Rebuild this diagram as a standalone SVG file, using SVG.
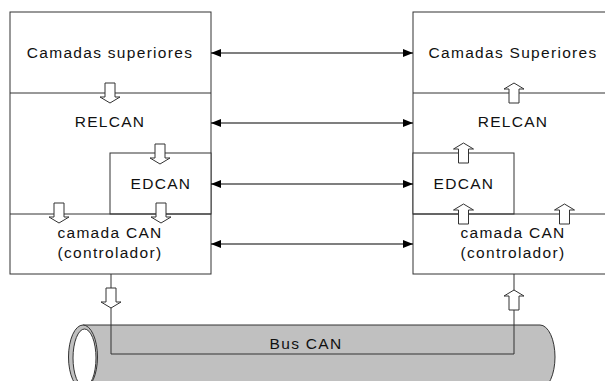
<svg xmlns="http://www.w3.org/2000/svg" width="605" height="381" viewBox="0 0 605 381">
<style>
.box{fill:#fff;stroke:#333;stroke-width:1}
.ln{stroke:#333;stroke-width:1;fill:none}
.t{font-family:"Liberation Sans",Arial,sans-serif;font-size:15.5px;letter-spacing:1.3px;fill:#111;text-anchor:middle}
.ha{fill:#fff;stroke:#333;stroke-width:1}
.bi{stroke:#000;stroke-width:1.2;fill:none;marker-start:url(#ah);marker-end:url(#ah)}
</style>
<defs>
<marker id="ah" viewBox="0 0 10 8" refX="10" refY="4" markerWidth="10" markerHeight="8" markerUnits="userSpaceOnUse" orient="auto-start-reverse">
<path d="M0,0 L10,4 L0,8 Z" fill="#000"/>
</marker>
</defs>
<rect width="605" height="381" fill="#fff"/>

<g id="bus">
<path d="M83,325 L540,325 A15,32 0 0 1 540,389 L83,389 Z" fill="#c0c0c0" stroke="#333" stroke-width="1"/>
<ellipse cx="83" cy="357" rx="14.5" ry="32" fill="#c0c0c0" stroke="#333" stroke-width="1"/>
<ellipse cx="84.5" cy="358" rx="11.5" ry="29" fill="#fff" stroke="#333" stroke-width="1"/>
<text class="t" x="306" y="349">Bus CAN</text>
</g>

<g id="left-stack">
<rect class="box" x="10" y="12" width="201" height="262"/>
<g id="left-upper"><text class="t" x="110" y="58">Camadas superiores</text></g>
<line class="ln" x1="10" y1="93" x2="211" y2="93"/>
<g id="left-relcan"><text class="t" x="110" y="127">RELCAN</text></g>
<g id="left-edcan"><rect class="box" x="110" y="153" width="101" height="61"/><text class="t" x="161" y="189">EDCAN</text></g>
<line class="ln" x1="10" y1="214" x2="211" y2="214"/>
<g id="left-can"><text class="t" x="110" y="238">camada CAN</text><text class="t" x="110" y="258">(controlador)</text></g>
</g>

<g id="right-stack">
<rect class="box" x="413" y="12" width="200" height="262"/>
<g id="right-upper"><text class="t" x="513" y="58">Camadas Superiores</text></g>
<line class="ln" x1="413" y1="93" x2="613" y2="93"/>
<g id="right-relcan"><text class="t" x="513" y="127">RELCAN</text></g>
<g id="right-edcan"><rect class="box" x="413" y="153" width="101" height="61"/><text class="t" x="464" y="189">EDCAN</text></g>
<line class="ln" x1="413" y1="214" x2="613" y2="214"/>
<g id="right-can"><text class="t" x="513" y="238">camada CAN</text><text class="t" x="513" y="258">(controlador)</text></g>
</g>

<g id="connectors">
<line class="bi" x1="211" y1="53" x2="413" y2="53"/>
<line class="bi" x1="211" y1="123" x2="413" y2="123"/>
<line class="bi" x1="211" y1="184" x2="413" y2="184"/>
<line class="bi" x1="211" y1="244" x2="413" y2="244"/>
<path class="ln" d="M111,274 L111,354 L514,354 L514,274"/>
<!-- down hollow arrows (left) -->
<path class="ha" d="M105,83 h10 v14 h5 l-10,6 l-10,-6 h5 Z"/>
<path class="ha" d="M155,144 h10 v14 h5 l-10,6 l-10,-6 h5 Z"/>
<path class="ha" d="M54,203 h10 v14 h5 l-10,6 l-10,-6 h5 Z"/>
<path class="ha" d="M156,203 h10 v14 h5 l-10,6 l-10,-6 h5 Z"/>
<path class="ha" d="M106,288 h10 v14 h5 l-10,6 l-10,-6 h5 Z"/>
<!-- up hollow arrows (right) -->
<path class="ha" d="M509,103 h10 v-14 h5 l-10,-6 l-10,6 h5 Z"/>
<path class="ha" d="M458.5,163 h10 v-14 h5 l-10,-6 l-10,6 h5 Z"/>
<path class="ha" d="M458.5,224 h10 v-14 h5 l-10,-6 l-10,6 h5 Z"/>
<path class="ha" d="M559.5,224 h10 v-14 h5 l-10,-6 l-10,6 h5 Z"/>
<path class="ha" d="M509,310 h10 v-14 h5 l-10,-6 l-10,6 h5 Z"/>
</g>
</svg>
